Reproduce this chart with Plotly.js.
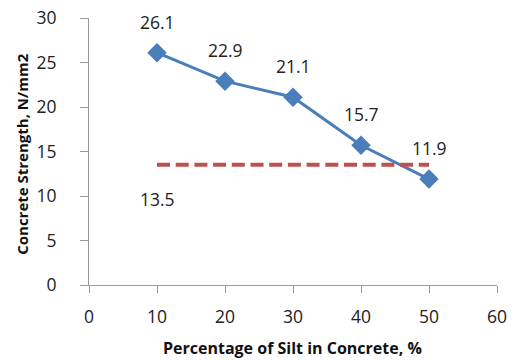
<!DOCTYPE html>
<html>
<head>
<meta charset="utf-8">
<script src="https://cdn.plot.ly/plotly-3.0.1.min.js"></script>
<style>html,body{margin:0;padding:0;background:#fff;}#chart{width:517px;height:360px;}</style>
</head>
<body>
<div id="chart"></div>
<script>
var silt = [10, 20, 30, 40, 50];
var strength = [26.1, 22.9, 21.1, 15.7, 11.9];
var limitX = [10, 50];
var limitY = [13.5, 13.5];
var limitLabel = "13.5";
var xTicks = [0, 10, 20, 30, 40, 50, 60];
var yTicks = [0, 5, 10, 15, 20, 25, 30];
var xTitle = "Percentage of Silt in Concrete, %";
var yTitle = "Concrete Strength, N/mm2";

var font = "'Open Sans', 'Noto Sans', sans-serif";

var traces = [
  {
    x: silt, y: strength, type: 'scatter', mode: 'lines+markers',
    line: {color: '#4A7EBB', width: 3},
    marker: {symbol: 'diamond', size: 15, color: '#4A7EBB'},
    hoverinfo: 'skip', showlegend: false
  },
  {
    x: limitX, y: limitY, type: 'scatter', mode: 'lines',
    line: {color: '#C0504D', width: 4, dash: '13px,5.7px'},
    hoverinfo: 'skip', showlegend: false
  }
];

var annotations = silt.map(function (x, i) {
  return {x: x, y: strength[i], text: strength[i].toFixed(1), showarrow: false,
    yshift: 31, font: {family: font, size: 17.5, color: '#222'}};
});
annotations.push({x: limitX[0], y: limitY[0], text: limitLabel, showarrow: false,
  yshift: -34, font: {family: font, size: 17.5, color: '#222'}});
annotations.push({xref: 'paper', yref: 'paper', x: 0.4994, y: -0.2355, xanchor: 'center', yanchor: 'middle',
  text: '<b>' + xTitle + '</b>', showarrow: false, font: {family: font, size: 16, color: '#111'}});
annotations.push({xref: 'paper', yref: 'paper', x: -0.1628, y: 0.4897, xanchor: 'center', yanchor: 'middle',
  textangle: -90, text: '<b>' + yTitle + '</b>', showarrow: false, font: {family: font, size: 15, color: '#111'}});

var layout = {
  width: 517, height: 360,
  margin: {l: 88.5, r: 20, t: 17.5, b: 75},
  paper_bgcolor: '#fff', plot_bgcolor: '#fff',
  xaxis: {
    range: [0, 60], tickvals: xTicks, ticktext: xTicks.map(String),
    showgrid: false, zeroline: false, showline: true, linecolor: '#999', linewidth: 1,
    ticks: 'outside', ticklen: 7, tickcolor: '#999', ticklabelstandoff: 9,
    tickfont: {family: font, size: 17.5, color: '#222'},
    fixedrange: true
  },
  yaxis: {
    range: [0, 30], tickvals: yTicks, ticktext: yTicks.map(String),
    showgrid: false, zeroline: false, showline: true, linecolor: '#999', linewidth: 1,
    ticks: 'outside', ticklen: 8, tickcolor: '#999', ticklabelstandoff: 20,
    tickfont: {family: font, size: 17.5, color: '#222'},
    fixedrange: true
  },
  annotations: annotations
};

Plotly.newPlot('chart', traces, layout, {displayModeBar: false, staticPlot: true});
</script>
</body>
</html>
